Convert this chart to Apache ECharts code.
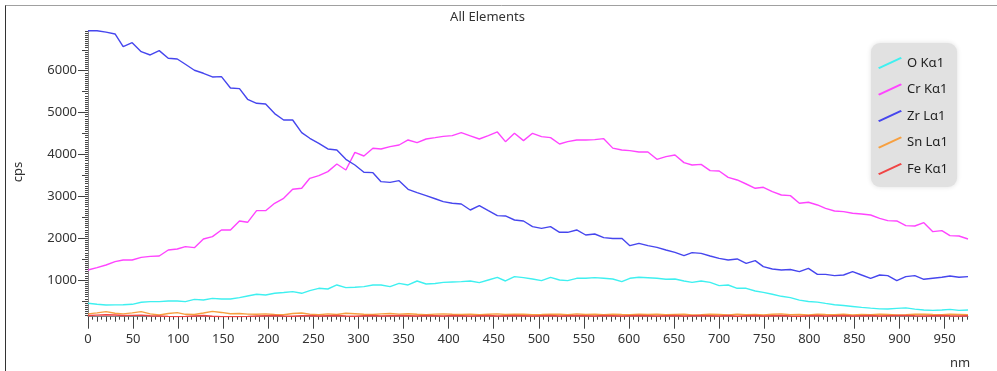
<!DOCTYPE html>
<html><head><meta charset="utf-8">
<script src="https://cdn.jsdelivr.net/npm/echarts@6/dist/echarts.min.js"></script>
<style>html,body{margin:0;padding:0;background:#fff;overflow:hidden}#c{width:997px;height:371px}</style>
</head><body><div id="c"></div>
<script>
// ---- data ----
const nm = [0,10,20,30,39,49,59,69,79,89,99,108,118,128,138,148,158,168,177,187,
  197,207,217,227,237,246,256,266,276,286,296,306,316,325,335,345,355,365,375,385,
  394,404,414,424,434,444,454,463,473,483,493,503,513,523,532,542,552,562,572,582,
  592,601,611,621,631,641,651,661,670,680,690,700,710,720,730,740,749,759,769,779,
  789,799,809,818,828,838,848,858,868,878,887,897,907,917,927,937,947,956,966,976];

const oKa1 = [443,419,403,405,410,419,467,482,482,498,
  498,482,538,522,562,546,546,578,618,658,
  640,682,700,721,682,745,801,785,881,817,
  825,841,881,881,841,920,881,976,904,915,
  944,952,960,976,936,1000,1064,976,1080,1056,
  1024,984,1064,1000,984,1040,1040,1056,1040,1024,
  960,1040,1064,1052,1040,1016,1024,976,944,976,
  944,865,881,801,801,737,705,658,610,578,
  520,487,470,440,410,392,368,345,327,310,
  307,323,335,305,283,275,283,299,275,283];

const crKa1 = [1239,1295,1358,1438,1478,1478,1541,1565,1573,1717,
  1741,1796,1772,1979,2035,2195,2195,2410,2378,2656,
  2656,2832,2951,3166,3190,3429,3492,3588,3771,3628,
  4050,3962,4146,4130,4185,4225,4345,4281,4368,4400,
  4430,4448,4520,4444,4368,4450,4536,4305,4504,4329,
  4504,4424,4400,4249,4305,4345,4345,4353,4376,4150,
  4106,4090,4058,4058,3883,3946,3986,3803,3747,3763,
  3612,3604,3453,3389,3293,3190,3214,3110,3031,3015,
  2832,2856,2792,2712,2648,2632,2593,2577,2553,2473,
  2417,2410,2298,2290,2370,2155,2179,2059,2051,1979];

const zrLa1 = [6955,6955,6920,6877,6574,6670,6455,6375,6479,6296,
  6280,6153,6010,5938,5850,5858,5587,5571,5317,5221,
  5205,4975,4822,4822,4519,4385,4265,4130,4106,3883,
  3747,3572,3564,3349,3333,3373,3166,3086,3014,2940,
  2871,2832,2816,2672,2776,2656,2537,2529,2433,2409,
  2274,2234,2274,2139,2139,2195,2075,2099,2011,1990,
  1995,1820,1876,1820,1780,1717,1661,1581,1653,1637,
  1573,1517,1478,1502,1398,1462,1319,1263,1239,1250,
  1199,1279,1135,1135,1104,1119,1199,1119,1040,1119,
  1104,984,1080,1104,1016,1040,1064,1096,1064,1080];

const snLa1 = [190,215,243,205,190,215,243,190,164,200,
  220,180,175,210,250,225,195,200,185,180,
  190,175,170,200,210,185,170,190,175,205,
  195,180,175,190,200,185,195,180,170,185,
  190,180,175,185,170,180,190,175,185,180,
  170,175,185,180,170,190,175,180,170,185,
  175,170,180,175,185,170,175,180,165,170,
  180,175,165,180,170,175,165,180,190,170,
  175,165,180,175,170,180,165,175,170,180,
  175,165,170,180,185,175,170,180,175,170];

const feKa1 = [150,160,170,165,150,155,160,145,140,130,
  125,130,140,150,135,125,124,125,130,140,
  145,150,140,135,145,150,140,145,150,140,
  135,145,150,140,145,150,145,140,150,145,
  140,150,145,140,145,150,140,145,150,145,
  140,145,150,140,145,150,145,140,150,145,
  140,145,150,145,140,145,150,140,145,150,
  145,140,150,135,145,150,140,145,150,140,
  135,145,150,140,145,150,140,145,150,140,
  145,150,155,145,140,145,150,145,140,145];

const seriesNames = ['O K\u03b11','Cr K\u03b11','Zr L\u03b11','Sn L\u03b11','Fe K\u03b11'];
const seriesValues = [oKa1, crKa1, zrLa1, snLa1, feKa1];
const seriesColors = ['#3ff0f0','#ff44ff','#4646ee','#f7a040','#f04545'];

const xTickValues = [0,50,100,150,200,250,300,350,400,450,500,550,600,650,700,750,800,850,900,950];
const yTickValues = [1000,2000,3000,4000,5000,6000];

// ---- layout ----
const X_MIN = 0, X_MAX = 976, Y_MIN = 123, Y_MAX = 6960;
const FONT = 'Noto Sans';

const x10 = [], x5 = [];
for (let v = 5; v <= 975; v += 5) { if (v % 10 === 0 && v % 50 !== 0) x10.push(v); else if (v % 10 !== 0) x5.push(v); }
const y50 = [], y500 = [];
for (let v = 150; v <= 6950; v += 50) { if (v % 500 === 0 && v % 1000 !== 0) y500.push(v); else if (v % 500 !== 0) y50.push(v); }

function xAx(vals, len, extra) {
  return Object.assign({
    type: 'value', min: X_MIN, max: X_MAX, position: 'bottom', gridIndex: 0,
    axisLine: { show: false }, splitLine: { show: false },
    axisLabel: { show: false },
    axisTick: { show: true, customValues: vals, length: len, lineStyle: { color: '#444', width: 1 } }
  }, extra || {});
}
function yAx(vals, len, extra) {
  return Object.assign({
    type: 'value', min: Y_MIN, max: Y_MAX, position: 'left', gridIndex: 0,
    axisLine: { show: false }, splitLine: { show: false },
    axisLabel: { show: false },
    axisTick: { show: true, customValues: vals, length: len, lineStyle: { color: '#444', width: 1 } }
  }, extra || {});
}

const chart = echarts.init(document.getElementById('c'), null, { renderer: 'canvas' });
chart.setOption({
  animation: false,
  backgroundColor: '#ffffff',
  grid: { left: 88, right: 29, top: 30.5, bottom: 54.3, containLabel: false },
  xAxis: [
    xAx(xTickValues, 12, {
      axisLine: { show: true, lineStyle: { color: '#888', width: 1 } },
      axisLabel: { show: true, customValues: xTickValues, margin: 16, fontFamily: FONT, fontSize: 13, color: '#333', formatter: v => String(v) }
    }),
    xAx(x10, 5),
    xAx(x5, 3)
  ],
  yAxis: [
    yAx(yTickValues, 10, {
      axisLine: { show: true, lineStyle: { color: '#888', width: 1 } },
      axisLabel: { show: true, customValues: yTickValues, margin: 11, fontFamily: FONT, fontSize: 13, color: '#333', formatter: v => String(v) }
    }),
    yAx(y500, 6),
    yAx(y50, 3)
  ],
  legend: {
    orient: 'vertical', left: 871, top: 43,
    padding: [13, 9, 11, 7],
    itemWidth: 24, itemHeight: 12, itemGap: 12.5,
    backgroundColor: '#e1e1e1', borderRadius: 9,
    shadowBlur: 5, shadowColor: 'rgba(0,0,0,0.12)',
    icon: 'path://M0,10.6 L22.6,0 L24,1.4 L1.4,12 Z',
    itemStyle: { borderWidth: 0 },
    textStyle: { fontFamily: FONT, fontSize: 13, color: '#222', lineHeight: 14 },
    data: seriesNames.map((n, i) => ({ name: n, itemStyle: { color: seriesColors[i], borderWidth: 0 } }))
  },
  series: seriesNames.map((n, i) => ({
    name: n, type: 'line', xAxisIndex: 0, yAxisIndex: 0,
    showSymbol: false, symbol: 'none',
    color: seriesColors[i],
    lineStyle: { color: seriesColors[i], width: 1.4 },
    itemStyle: { color: seriesColors[i] },
    data: nm.map((x, k) => [x, seriesValues[i][k]])
  })),
  graphic: [
    { type: 'line', shape: { x1: 5.5, y1: 5, x2: 5.5, y2: 371 }, style: { stroke: '#333', lineWidth: 1 } },
    { type: 'line', shape: { x1: 5.5, y1: 5.5, x2: 997, y2: 5.5 }, style: { stroke: '#a0a0a0', lineWidth: 1 } },
    { type: 'text', x: 487.5, y: 17, style: { text: 'All Elements', font: '13px "Noto Sans"', fill: '#333', textAlign: 'center', textVerticalAlign: 'middle' } },
    { type: 'text', x: 18, y: 172, rotation: Math.PI / 2, style: { text: 'cps', font: '13px "Noto Sans"', fill: '#333', textAlign: 'center', textVerticalAlign: 'middle' } },
    { type: 'text', x: 960, y: 363, style: { text: 'nm', font: '13px "Noto Sans"', fill: '#333', textAlign: 'center', textVerticalAlign: 'middle' } }
  ]
});
</script></body></html>
